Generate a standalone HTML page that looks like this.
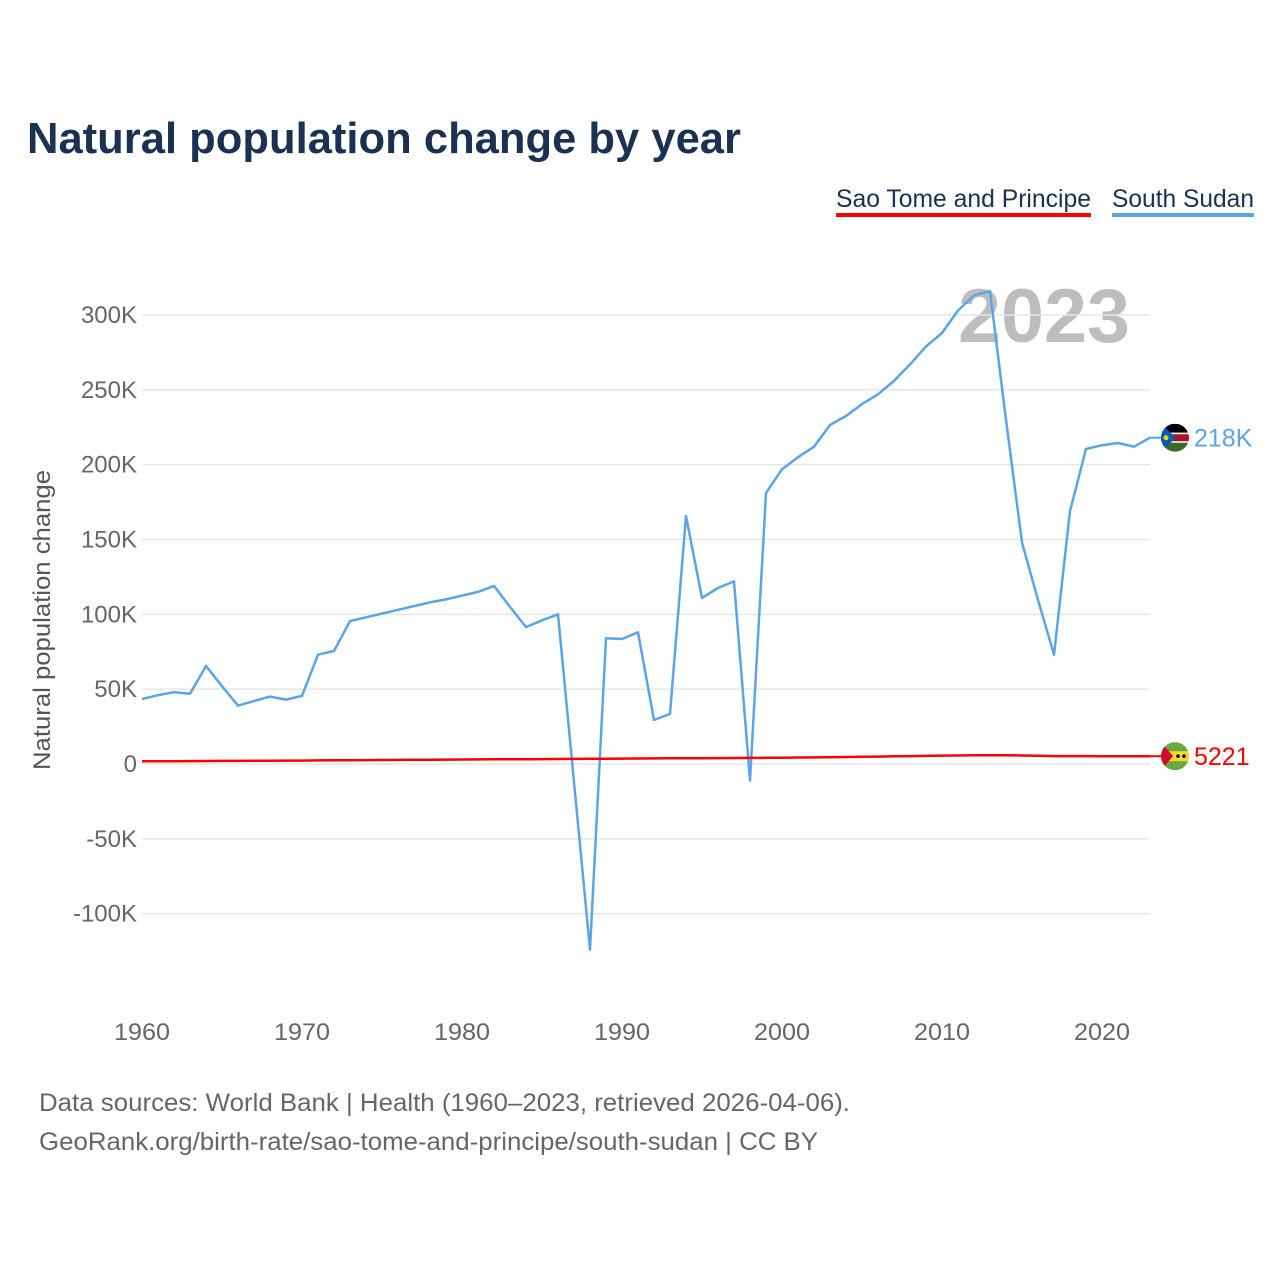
<!DOCTYPE html>
<html><head><meta charset="utf-8"><style>
body{margin:0;background:#fff;}
svg text{font-family:"Liberation Sans",sans-serif;}
</style></head><body>
<svg id="chart" width="1280" height="1280" xmlns="http://www.w3.org/2000/svg">
<defs>
<clipPath id="cSS"><circle id="cSSc" cx="1175" cy="437" r="14"/></clipPath>
<clipPath id="cST"><circle id="cSTc" cx="1175" cy="756" r="14"/></clipPath>
</defs>
<text x="27" y="153" font-size="44" font-weight="bold" fill="#1a3152" textLength="714" lengthAdjust="spacingAndGlyphs">Natural population change by year</text>
<g>
<text x="836" y="207" font-size="25" fill="#1a3152" textLength="255" lengthAdjust="spacingAndGlyphs">Sao Tome and Principe</text>
<rect x="836" y="213" width="255" height="4" fill="#ff0000"/></g>
<g>
<text x="1112" y="207" font-size="25" fill="#1a3152" textLength="142" lengthAdjust="spacingAndGlyphs">South Sudan</text>
<rect x="1112" y="213" width="142" height="4" fill="#5ba4e8"/></g>
<text x="958" y="342" font-size="76" font-weight="bold" fill="#bdbdbd" textLength="172" lengthAdjust="spacingAndGlyphs">2023</text>
<text transform="translate(50,620) rotate(-90)" font-size="24" fill="#555" text-anchor="middle" textLength="300" lengthAdjust="spacingAndGlyphs">Natural population change</text>
<g id="grid"></g><g id="yticks"></g><g id="xticks"></g><g id="lines"></g>
<g id="flagSS" clip-path="url(#cSS)"></g>
<g id="flagST" clip-path="url(#cST)"></g>
<text x="39" y="1111" font-size="25" fill="#666" textLength="811" lengthAdjust="spacingAndGlyphs">Data sources: World Bank | Health (1960–2023, retrieved 2026-04-06).</text>
<text x="39" y="1150" font-size="25" fill="#666" textLength="779" lengthAdjust="spacingAndGlyphs">GeoRank.org/birth-rate/sao-tome-and-principe/south-sudan | CC BY</text>
</svg>
<script>
const years = [];
for (let y = 1960; y <= 2023; y++) years.push(y);
const southSudan = [43.4,46,48,47,65.5,52,39,42,45,43,45.5,73,75.5,95.5,98,100.5,103,105.5,108,110,112.5,115,119,105,91.5,96,100,-12,-124,84,83.5,88,29.4,33.4,165.7,111,117.6,122,-11,181,197,205,212,226.5,232.5,240.5,247,256,267,279,288,303,313,316,230,148,109.6,73,169,210.5,213,214.5,212,218].map(v=>v*1000);
const saoTome = [1800,1850,1900,1950,2000,2050,2100,2150,2200,2250,2300,2380,2460,2530,2600,2670,2740,2800,2870,2940,3000,3060,3120,3180,3240,3300,3360,3420,3480,3540,3600,3660,3720,3780,3840,3900,3960,4020,4080,4140,4200,4320,4440,4560,4680,4800,4960,5120,5280,5440,5600,5700,5800,5900,5800,5700,5500,5300,5250,5250,5230,5220,5220,5221];
const yTicks = [-100000,-50000,0,50000,100000,150000,200000,250000,300000];
const yTickLabels = ["-100K","-50K","0","50K","100K","150K","200K","250K","300K"];
const xTicks = [1960,1970,1980,1990,2000,2010,2020];
const NS="http://www.w3.org/2000/svg";
const X = yr => 142 + (yr-1960)*16;
const Y = v => 764 - v/300000*449;
function mk(tag, attrs, parent){const e=document.createElementNS(NS,tag);for(const k in attrs)e.setAttribute(k,attrs[k]);parent.appendChild(e);return e;}
const grid=document.getElementById('grid'), yt=document.getElementById('yticks'), xt=document.getElementById('xticks'), lines=document.getElementById('lines');
yTicks.forEach((v,i)=>{
  const l=mk('line',{x1:142,x2:1150,y1:Y(v),y2:Y(v),stroke:'#e6e6e6','stroke-width':1.5},grid);
  
  
  const t=mk('text',{x:137,y:Y(v)+8,'font-size':24,fill:'#666','text-anchor':'end'},yt);
  t.textContent=yTickLabels[i];
  
  
});
xTicks.forEach(yr=>{
  const t=mk('text',{x:X(yr),y:1040,'font-size':24,fill:'#666','text-anchor':'middle',textLength:56,lengthAdjust:'spacingAndGlyphs'},xt);
  t.textContent=yr;
  
  
});
function series(vals,color,name){
  const d=vals.map((v,i)=>(i?'L':'M')+X(years[i]).toFixed(1)+','+Y(v).toFixed(1)).join(' ');
  const p=mk('path',{d:d,fill:'none',stroke:color,'stroke-width':2.5,'stroke-linejoin':'round'},lines);
  
  
}
series(southSudan,'#5ba4e8','line-south-sudan');
series(saoTome,'#ff0000','line-sao-tome');
function endLabel(vals,color,txt,name){
  const v=vals[vals.length-1], y=Y(v);
  mk('line',{x1:X(2023),x2:1162,y1:y,y2:y,stroke:color,'stroke-width':2},lines);
  const t=mk('text',{x:1194,y:y+9,'font-size':25,fill:color},lines);
  t.textContent=txt;
  
  
  return y;
}
const ySS=endLabel(southSudan,'#5ba4e8','218K','end-label-south-sudan');
const yST=endLabel(saoTome,'#ff0000','5221','end-label-sao-tome');
const cx=1175;
document.getElementById('cSSc').setAttribute('cy',ySS);
document.getElementById('cSTc').setAttribute('cy',yST);
let gg=document.getElementById('flagSS');
mk('rect',{x:cx-14,y:ySS-14,width:28,height:9,fill:'#000'},gg);
mk('rect',{x:cx-14,y:ySS-5,width:28,height:10,fill:'#fff'},gg);
mk('rect',{x:cx-14,y:ySS-3.5,width:28,height:7,fill:'#b0102a'},gg);
mk('rect',{x:cx-14,y:ySS+5,width:28,height:9,fill:'#3e6b2c'},gg);
mk('polygon',{points:`${cx-14},${ySS-14} ${cx+1},${ySS} ${cx-14},${ySS+14}`,fill:'#0b5ab0'},gg);
mk('circle',{cx:cx-9,cy:ySS,r:2.5,fill:'#f5d300'},gg);
gg=document.getElementById('flagST');
mk('rect',{x:cx-14,y:yST-14,width:28,height:28,fill:'#6aa843'},gg);
mk('rect',{x:cx-14,y:yST-5,width:28,height:10,fill:'#f7d82d'},gg);
mk('polygon',{points:`${cx-14},${yST-14} ${cx-2},${yST} ${cx-14},${yST+14}`,fill:'#d5092c'},gg);
mk('circle',{cx:cx+3,cy:yST,r:1.8,fill:'#000'},gg);
mk('circle',{cx:cx+9,cy:yST,r:1.8,fill:'#000'},gg);
</script>
</body></html>
